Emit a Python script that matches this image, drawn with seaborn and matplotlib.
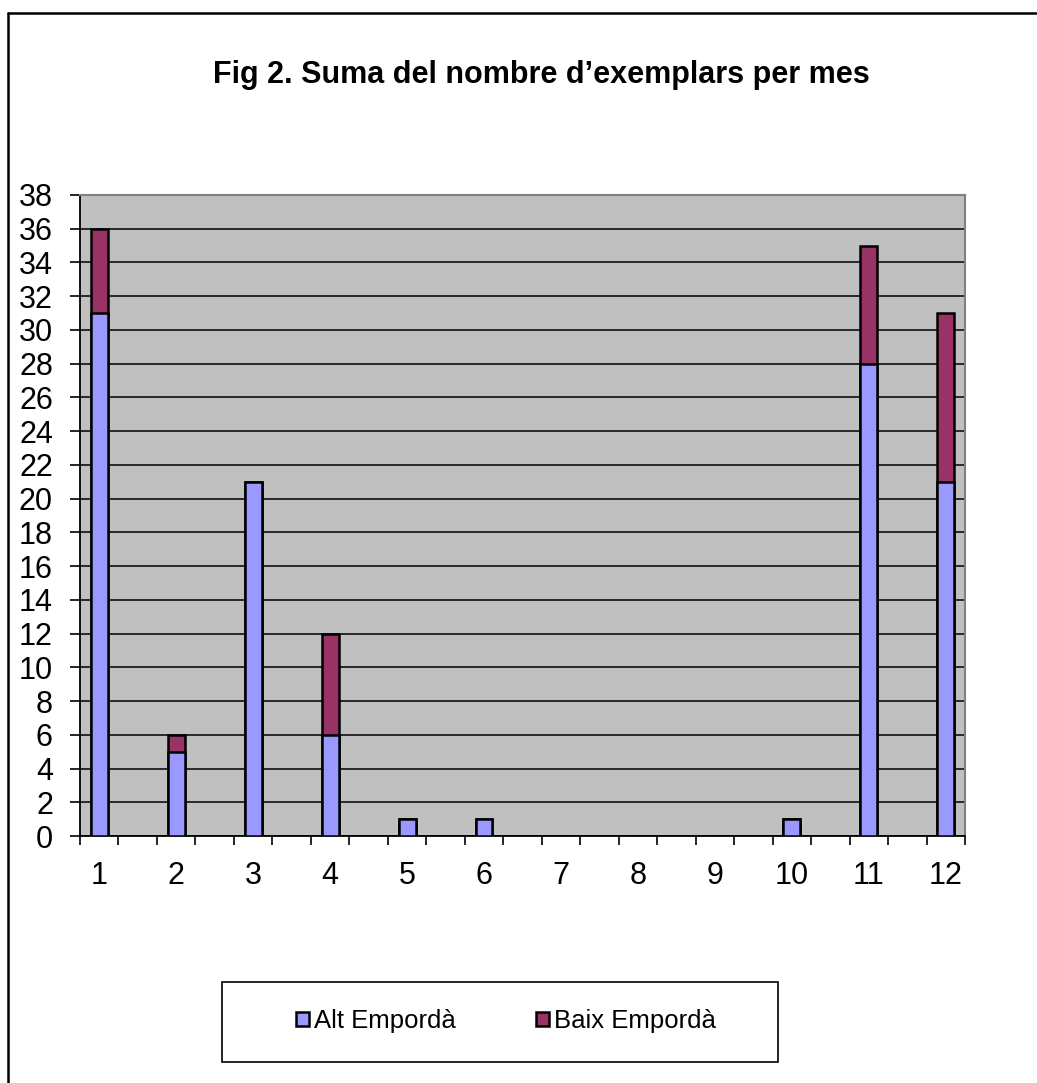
import numpy as np
import pandas as pd
import matplotlib
matplotlib.use("Agg")
import matplotlib.pyplot as plt
from matplotlib.patches import Patch, Rectangle
from matplotlib.lines import Line2D
import seaborn as sns

# ---- data ----
months = [1, 2, 3, 4, 5, 6, 7, 8, 9, 10, 11, 12]
alt_emporda = [31, 5, 21, 6, 1, 1, 0, 0, 0, 1, 28, 21]
baix_emporda = [5, 1, 0, 6, 0, 0, 0, 0, 0, 0, 7, 10]
series_names = ["Alt Empordà", "Baix Empordà"]
title = "Fig 2. Suma del nombre d\u2019exemplars per mes"
y_ticks = list(range(0, 39, 2))

ALT_COLOR = "#9999FF"
BAIX_COLOR = "#993366"

sns.set_style("white")
plt.rcParams["font.family"] = ["Liberation Sans", "DejaVu Sans"]
plt.rcParams["text.color"] = "black"
plt.rcParams["xtick.color"] = "black"
plt.rcParams["ytick.color"] = "black"

df = pd.DataFrame({"month": months, "alt": alt_emporda, "baix": baix_emporda})
df["total"] = df["alt"] + df["baix"]

W, H = 1037, 1083
fig = plt.figure(figsize=(W / 100, H / 100), dpi=100)
fig.patch.set_facecolor("white")

ax = fig.add_axes([80 / W, 1 - 836 / H, 885 / W, 641 / H])
ax.set_facecolor("#C0C0C0")

bar_w = 0.22
# stacked: draw totals (Baix on top) then Alt over it
sns.barplot(data=df, x="month", y="total", native_scale=True, color=BAIX_COLOR,
            saturation=1, width=bar_w, edgecolor="black", linewidth=1.8, ax=ax, zorder=3)
sns.barplot(data=df, x="month", y="alt", native_scale=True, color=ALT_COLOR,
            saturation=1, width=bar_w, edgecolor="black", linewidth=1.8, ax=ax, zorder=4)

ax.set_xlim(0.75, 12.25)
ax.set_ylim(0, 38)
ax.set_xlabel("")
ax.set_ylabel("")

# y axis
ax.set_yticks(y_ticks)
ax.set_yticklabels([str(v) for v in y_ticks], fontsize=22, color="black")
ax.tick_params(axis="y", which="major", direction="out", length=7.5, width=1.2,
               color="black", pad=12, left=True)
ax.yaxis.grid(True, color="black", linewidth=1.1)
ax.set_axisbelow(True)

# x axis: major ticks between categories, labels on minor ticks
ax.set_xticks(np.arange(0.75, 12.26, 0.5))
ax.set_xticklabels([])
ax.set_xticks(months, minor=True)
ax.set_xticklabels([str(m) for m in months], minor=True, fontsize=22, color="black")
ax.tick_params(axis="x", which="major", direction="out", length=6.5, width=1.2,
               color="black", bottom=True)
ax.tick_params(axis="x", which="minor", length=0, pad=18)

for side in ["left", "bottom"]:
    ax.spines[side].set_color("black")
    ax.spines[side].set_linewidth(1.3)
for side in ["top", "right"]:
    ax.spines[side].set_visible(True)
    ax.spines[side].set_color("#808080")
    ax.spines[side].set_linewidth(1.5)

# title
fig.text(541 / W, 1 - 75 / H, title, ha="center", va="center",
         fontsize=22, fontweight="bold", color="black")

# outer chart border (left and top)
fig.add_artist(Line2D([7.5 / W, 7.5 / W], [0, 1 - 12.5 / H], color="black",
                      linewidth=1.8, transform=fig.transFigure))
fig.add_artist(Line2D([7.5 / W, 1], [1 - 12.5 / H, 1 - 12.5 / H], color="black",
                      linewidth=1.8, transform=fig.transFigure))

# legend box
fig.add_artist(Rectangle((222 / W, 1 - 1062 / H), 556 / W, 80 / H,
                         transform=fig.transFigure, facecolor="white",
                         edgecolor="black", linewidth=1.2))
handles = [Patch(facecolor=ALT_COLOR, edgecolor="black", linewidth=1.8),
           Patch(facecolor=BAIX_COLOR, edgecolor="black", linewidth=1.8)]
leg = fig.legend(handles, series_names, loc="center",
                 bbox_to_anchor=(506 / W, 1 - 1021 / H), ncol=2, frameon=False,
                 fontsize=18.5, handlelength=0.5, handleheight=0.5,
                 handletextpad=0.2, columnspacing=3.1)
for t in leg.get_texts():
    t.set_color("black")

fig.savefig("out.png", dpi=100)
